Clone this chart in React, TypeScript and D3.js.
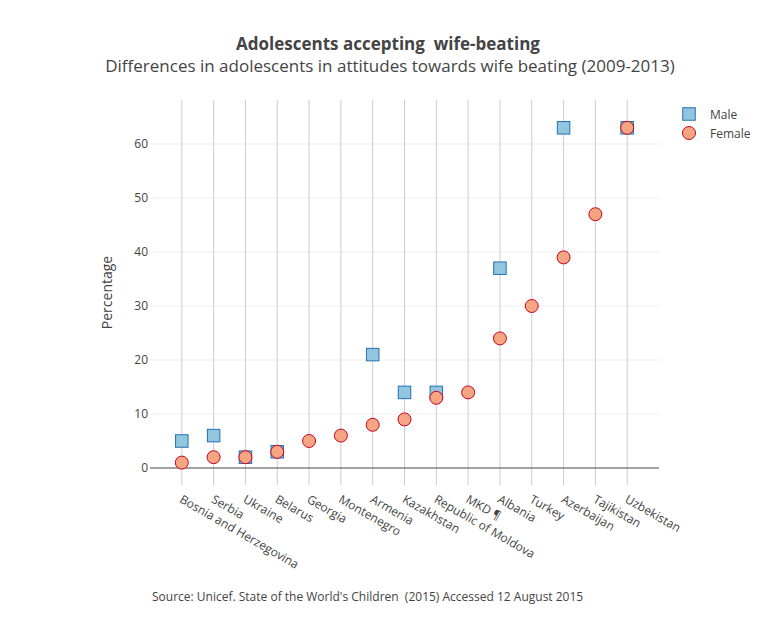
import React from "react";
import * as d3 from "d3";

const countries = [
  "Bosnia and Herzegovina", "Serbia", "Ukraine", "Belarus", "Georgia", "Montenegro",
  "Armenia", "Kazakhstan", "Republic of Moldova", "MKD ¶", "Albania", "Turkey",
  "Azerbaijan", "Tajikistan", "Uzbekistan",
];
const maleValues: (number | null)[] = [5, 6, 2, 3, null, null, 21, 14, 14, null, 37, null, 63, null, 63];
const femaleValues: (number | null)[] = [1, 2, 2, 3, 5, 6, 8, 9, 13, 14, 24, 30, 39, 47, 63];
const yTicks = [0, 10, 20, 30, 40, 50, 60];

const W = 780, H = 640;
const plot = { left: 150, right: 659, top: 100, bottom: 485 };
const FONT = "'Open Sans', 'Noto Sans', sans-serif";
const TXT = "#444";

export default function App() {
  const x = d3.scaleLinear().domain([-1, 15]).range([plot.left, plot.right]);
  const y = d3.scaleLinear().domain([-3.15, 68.15]).range([plot.bottom, plot.top]);
  const sq = 12.5;
  const r = 6.5;
  return (
    <svg width={W} height={H} style={{ position: "absolute", left: 0, top: 0, background: "#fff" }} fontFamily={FONT}>
      {/* horizontal grid */}
      {yTicks.filter(t => t !== 0).map(t => (
        <line key={"g" + t} x1={plot.left} x2={plot.right} y1={y(t)} y2={y(t)} stroke="#eee" strokeWidth={1} />
      ))}
      {/* vertical grid */}
      {countries.map((c, i) => (
        <line key={"v" + i} x1={x(i)} x2={x(i)} y1={plot.top} y2={plot.bottom} stroke="#ccc" strokeWidth={1} />
      ))}
      {/* zero line */}
      <line x1={plot.left} x2={plot.right} y1={y(0)} y2={y(0)} stroke="#444" strokeWidth={1} />
      {/* y tick labels */}
      {yTicks.map(t => (
        <text key={"yt" + t} x={plot.left - 2} y={y(t)} dy="0.35em" textAnchor="end" fontSize={12} fill={TXT}>{t}</text>
      ))}
      {/* x tick labels */}
      {countries.map((c, i) => (
        <text key={"xt" + i} transform={`translate(${x(i) - 1},${plot.bottom + 13}) rotate(30)`} textAnchor="start" dy="0.35em" fontSize={12} fill={TXT}>{c}</text>
      ))}
      {/* y title */}
      <text transform={`translate(112,${(plot.top + plot.bottom) / 2}) rotate(-90)`} textAnchor="middle" fontSize={14} fill={TXT}>Percentage</text>
      {/* male markers */}
      {maleValues.map((v, i) => v == null ? null : (
        <rect key={"m" + i} x={x(i) - sq / 2} y={y(v) - sq / 2} width={sq} height={sq} fill="#92c5de" stroke="#2171b5" strokeWidth={1} />
      ))}
      {/* female markers */}
      {femaleValues.map((v, i) => v == null ? null : (
        <circle key={"f" + i} cx={x(i)} cy={y(v)} r={r} fill="#f4a582" stroke="#ca0020" strokeWidth={1} />
      ))}
      {/* legend */}
      <rect x={689 - sq / 2} y={114 - sq / 2} width={sq} height={sq} fill="#92c5de" stroke="#2171b5" strokeWidth={1} />
      <text x={710} y={115} dy="0.35em" fontSize={12} fill={TXT}>Male</text>
      <circle cx={689} cy={133} r={r} fill="#f4a582" stroke="#ca0020" strokeWidth={1} />
      <text x={710} y={134} dy="0.35em" fontSize={12} fill={TXT}>Female</text>
      {/* title */}
      <text x={388} y={50} textAnchor="middle" fontSize={17} fontWeight="bold" fill={TXT} style={{ whiteSpace: "pre" }}>Adolescents accepting  wife-beating</text>
      <text x={390} y={72} textAnchor="middle" fontSize={17} fill={TXT}>Differences in adolescents in attitudes towards wife beating (2009-2013)</text>
      {/* source */}
      <text x={152} y={601} fontSize={12} fill={TXT} style={{ whiteSpace: "pre" }}>Source: Unicef. State of the World's Children  (2015) Accessed 12 August 2015</text>
    </svg>
  );
}
